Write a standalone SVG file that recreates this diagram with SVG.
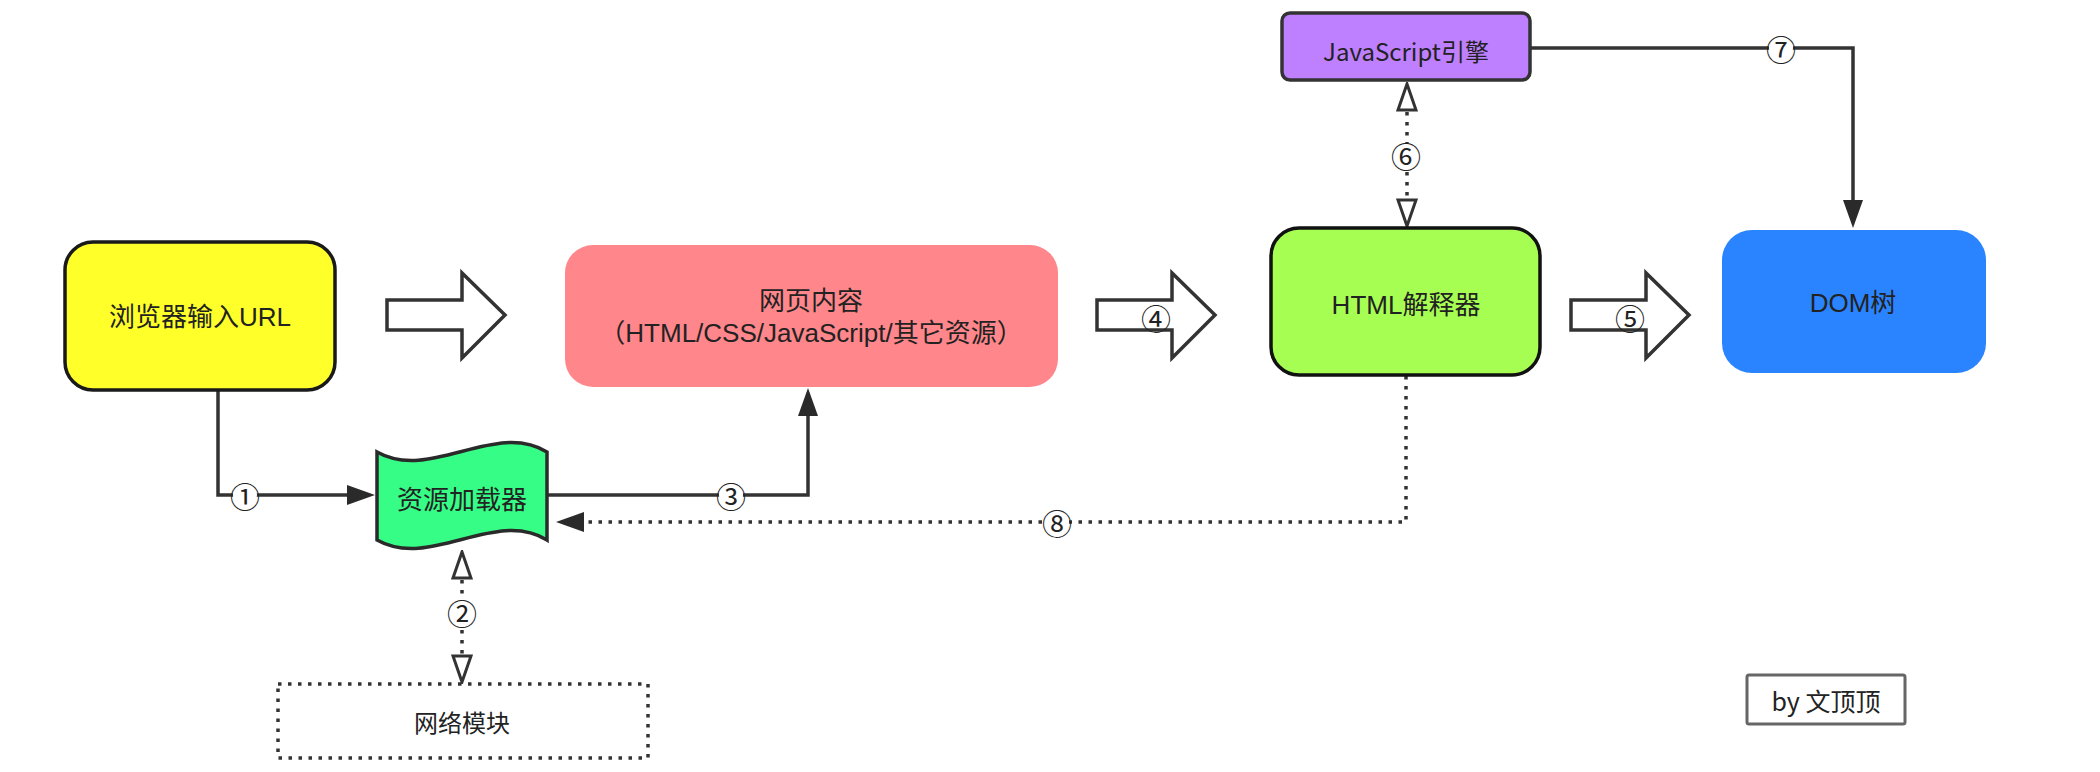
<svg xmlns="http://www.w3.org/2000/svg" width="2100" height="772" viewBox="0 0 2100 772">
<style>
.t{font-family:"Liberation Sans","Noto Sans CJK SC",sans-serif;font-size:26px;fill:#222;text-anchor:middle;dominant-baseline:central}
.tc{font-family:"Noto Sans CJK SC","Noto Sans",sans-serif;font-size:24px;fill:#222;text-anchor:middle;dominant-baseline:central}
.num{font-family:"Noto Sans CJK SC","DejaVu Sans",sans-serif;font-size:30px;fill:#222;text-anchor:middle;dominant-baseline:central}
.bg{fill:#fff}
.line{fill:none;stroke:#333;stroke-width:3.5}
.dot{fill:none;stroke:#333;stroke-width:3.5;stroke-dasharray:3.5 6.5}
.big{fill:#fff;stroke:#333;stroke-width:3.5;stroke-linejoin:miter}
</style>
<defs>
<marker id="filled" viewBox="0 0 28 20" refX="18" refY="10" markerWidth="28" markerHeight="20" markerUnits="userSpaceOnUse" orient="auto">
<path d="M0,0 L28,10 L0,20 Z" fill="#2a2a2a"/>
</marker>
<marker id="hollow" viewBox="0 0 30 22" refX="20" refY="11" markerWidth="30" markerHeight="22" markerUnits="userSpaceOnUse" orient="auto-start-reverse">
<path d="M2,2 L28,11 L2,20 Z" fill="#fff" stroke="#333" stroke-width="3"/>
</marker>
<path id="bigArrow" d="M0,0 L75,0 L75,-27 L118,15 L75,58 L75,30 L0,30 Z"/>
</defs>
<rect width="2100" height="772" fill="#fff"/>

<g id="connectors">
<use href="#bigArrow" class="big" transform="translate(387,300)"/>
<use href="#bigArrow" class="big" transform="translate(1097,300)"/>
<use href="#bigArrow" class="big" transform="translate(1571,300)"/>
<path class="line" d="M218,390 L218,495 L365,495" marker-end="url(#filled)"/>
<path class="line" d="M547,495 L808,495 L808,398" marker-end="url(#filled)"/>
<path class="line" d="M1530,48 L1853,48 L1853,218" marker-end="url(#filled)"/>
<path class="dot" d="M1406,376 L1406,522 L566,522" marker-end="url(#filled)"/>
<path class="dot" d="M1407,92 L1407,218" marker-start="url(#hollow)" marker-end="url(#hollow)"/>
<path class="dot" d="M462,560 L462,674" marker-start="url(#hollow)" marker-end="url(#hollow)"/>
<circle class="bg" cx="245" cy="495" r="12"/>
<circle class="bg" cx="462" cy="612" r="12"/>
<circle class="bg" cx="731" cy="495" r="12"/>
<circle class="bg" cx="1406" cy="155" r="12"/>
<circle class="bg" cx="1781" cy="48" r="12"/>
<circle class="bg" cx="1057" cy="522" r="12"/>
<text class="num" x="245" y="495">①</text>
<text class="num" x="462" y="612">②</text>
<text class="num" x="731" y="495">③</text>
<text class="num" x="1156" y="317">④</text>
<text class="num" x="1630" y="317">⑤</text>
<text class="num" x="1406" y="155">⑥</text>
<text class="num" x="1781" y="48">⑦</text>
<text class="num" x="1057" y="522">⑧</text>
</g>

<g id="node-url">
<rect x="65" y="242" width="270" height="148" rx="28" fill="#ffff2a" stroke="#1a1a1a" stroke-width="3.5"/>
<text class="t" x="200" y="317">浏览器输入URL</text>
</g>

<g id="node-content">
<rect x="565" y="245" width="493" height="142" rx="28" fill="#ff868a"/>
<text class="t" x="811" y="301">网页内容</text>
<text class="t" x="811" y="333">（HTML/CSS/JavaScript/其它资源）</text>
</g>

<g id="node-loader">
<path d="M377,452 C430,482 495,420 547,452 L547,540 C495,508 430,570 377,540 Z" fill="#36fd86" stroke="#2a2a2a" stroke-width="3.5"/>
<text class="tc" x="462" y="497" style="font-size:26px">资源加载器</text>
</g>

<g id="node-network">
<rect x="278" y="684" width="370" height="74" fill="#fff" class="dot"/>
<text class="tc" x="462" y="721">网络模块</text>
</g>

<g id="node-parser">
<rect x="1271" y="228" width="269" height="147" rx="28" fill="#a7fe52" stroke="#111" stroke-width="3.5"/>
<text class="t" x="1406" y="305">HTML解释器</text>
</g>

<g id="node-jsengine">
<rect x="1282" y="13" width="248" height="67" rx="8" fill="#bf80ff" stroke="#333" stroke-width="3.5"/>
<text class="tc" x="1406" y="50">JavaScript引擎</text>
</g>

<g id="node-dom">
<rect x="1722" y="230" width="264" height="143" rx="30" fill="#2b84ff"/>
<text class="t" x="1853" y="303">DOM树</text>
</g>

<g id="node-author">
<rect x="1747" y="675" width="158" height="49" rx="2" fill="#fff" stroke="#666" stroke-width="3"/>
<text class="tc" x="1826" y="700" style="font-size:25px">by 文顶顶</text>
</g>
</svg>
